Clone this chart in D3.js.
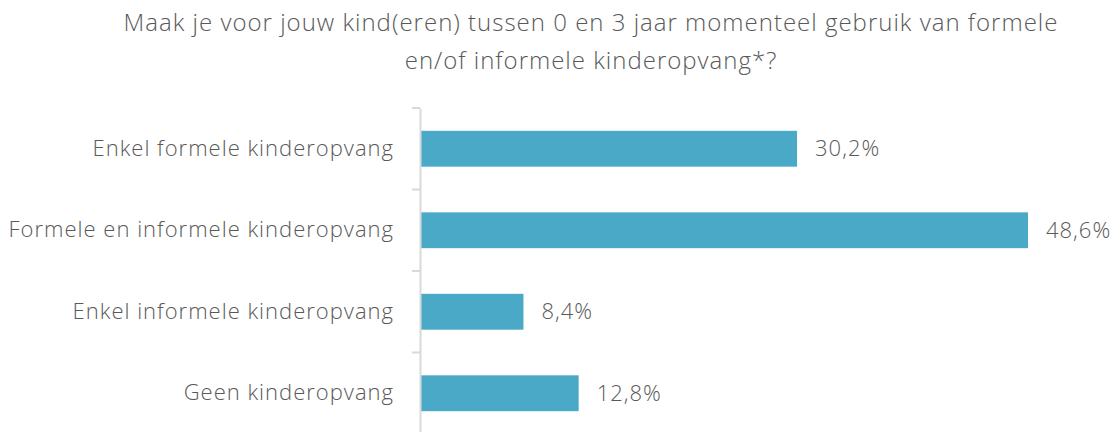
<!DOCTYPE html>
<html>
<head>
<meta charset="utf-8">
<script src="https://cdn.jsdelivr.net/npm/d3@7"></script>
<style>
  body { margin: 0; background: #fff; }
  #root { width: 1116px; height: 432px; }
  text { font-family: 'Open Sans', sans-serif; font-weight: 300; fill: #595959; }
</style>
</head>
<body>
<div id="root"></div>
<script>
const categories = [
    'Enkel formele kinderopvang',
    'Formele en informele kinderopvang',
    'Enkel informele kinderopvang',
    'Geen kinderopvang'
];
const values = [30.2, 48.6, 8.4, 12.8];
const titleLines = [
    'Maak je voor jouw kind(eren) tussen 0 en 3 jaar momenteel gebruik van formele',
    'en/of informele kinderopvang*?'
];

const root = document.getElementById('root');
const width = 1116;
const height = 432;
const axisX = 420;
const fmt = v => v.toFixed(1).replace('.', ',') + '%';

const svg = d3.select(root)
    .append('svg')
    .attr('width', width)
    .attr('height', height);

// Title
svg.selectAll('.title')
    .data(titleLines)
    .enter()
    .append('text')
    .attr('class', 'title')
    .attr('x', 591)
    .attr('y', (d, i) => 31 + i * 38)
    .attr('text-anchor', 'middle')
    .attr('font-size', '24px')
    .attr('letter-spacing', '1px')
    .text(d => d);

// Scales
const x = d3.scaleLinear()
    .domain([0, 48.6])
    .range([418, 1028]);
const y = d3.scaleBand()
    .domain(categories)
    .range([108, 434])
    .paddingInner(0.56)
    .paddingOuter(0.28);

// Bars (start just right of the axis line)
const barStart = axisX + 1;
svg.selectAll('.bar')
    .data(values)
    .enter()
    .append('rect')
    .attr('class', 'bar')
    .attr('x', barStart)
    .attr('y', (d, i) => y(categories[i]))
    .attr('width', d => x(d) - barStart)
    .attr('height', y.bandwidth())
    .attr('fill', '#4BA9C8');

// Axis line + ticks between categories
const yAxis = d3.axisLeft(y).tickSize(0).tickPadding(26);
const axisG = svg.append('g')
    .attr('transform', `translate(${axisX},0)`)
    .call(yAxis);
axisG.select('.domain').attr('stroke', '#d9d9d9').attr('stroke-width', 2);
axisG.selectAll('.tick text')
    .attr('font-size', '22px')
    .attr('letter-spacing', '1px')
    .attr('font-family', "'Open Sans', sans-serif")
    .attr('fill', '#595959');

const step = y.step();
const bounds = d3.range(categories.length).map(i => 108 + i * step);
svg.selectAll('.sep')
    .data(bounds)
    .enter()
    .append('line')
    .attr('x1', axisX - 8)
    .attr('x2', axisX)
    .attr('y1', d => d)
    .attr('y2', d => d)
    .attr('stroke', '#d9d9d9')
    .attr('stroke-width', 2);

// Value labels
svg.selectAll('.val')
    .data(values)
    .enter()
    .append('text')
    .attr('class', 'val')
    .attr('x', d => x(d) + 18)
    .attr('y', (d, i) => y(categories[i]) + y.bandwidth() / 2)
    .attr('dy', '0.35em')
    .attr('font-size', '22px')
    .attr('letter-spacing', '1px')
    .text(d => fmt(d));
</script>
</body>
</html>
